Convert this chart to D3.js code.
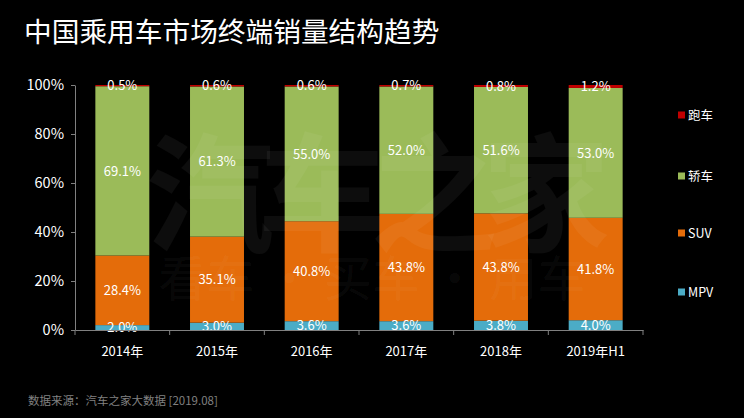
<!DOCTYPE html>
<html><head><meta charset="utf-8">
<script src="https://cdn.jsdelivr.net/npm/d3@7"></script>
<style>
html,body{margin:0;padding:0;background:#000;}
svg{display:block;}
text{font-family:"Noto Sans CJK SC","Noto Sans",sans-serif;}
</style></head>
<body>
<svg id="chart" width="744" height="418"></svg>
<script>
const categories = ["2014年","2015年","2016年","2017年","2018年","2019年H1"];
const seriesNames = ["MPV","SUV","轿车","跑车"];
const mpv    = [2.0, 3.0, 3.6, 3.6, 3.8, 4.0];
const suv    = [28.4, 35.1, 40.8, 43.8, 43.8, 41.8];
const sedan  = [69.1, 61.3, 55.0, 52.0, 51.6, 53.0];
const sports = [0.5, 0.6, 0.6, 0.7, 0.8, 1.2];
const yTicks = [0, 20, 40, 60, 80, 100];
const colors = ["#4BACC6", "#E46C0A", "#9BBB59", "#C00000"];

const seriesVals = [mpv, suv, sedan, sports];
const rows = categories.map((c, i) => {
  const r = {cat: c};
  seriesNames.forEach((s, k) => r[s] = seriesVals[k][i]);
  return r;
});

const svg = d3.select("#chart");
svg.append("rect").attr("width",744).attr("height",418).attr("fill","#000");

const x = d3.scaleBand().domain(categories).range([75, 643]).paddingInner(0.43).paddingOuter(0.215);
const y = d3.scaleLinear().domain([0, 100]).range([330, 85]);

const stack = d3.stack().keys(seriesNames)(rows);

const g = svg.append("g");
stack.forEach((layer, k) => {
  g.selectAll(null).data(layer).enter().append("rect")
    .attr("x", d => x(d.data.cat))
    .attr("width", x.bandwidth())
    .attr("y", d => y(Math.min(d[1], 100)))
    .attr("height", d => y(d[0]) - y(Math.min(d[1], 100)))
    .attr("fill", colors[k]);
});

// watermark
const wm = svg.append("g").attr("fill","#fff").attr("fill-opacity",0.05).attr("font-weight","bold").attr("text-anchor","middle");
wm.append("text").attr("x",370).attr("y",242).attr("font-size",128).attr("letter-spacing",-16).text("汽车之家");
wm.append("text").attr("x",372).attr("y",296).attr("font-size",48).attr("font-weight","normal").text("看车 · 买车 · 用车");

// labels
stack.forEach((layer, k) => {
  g.selectAll(null).data(layer).enter().append("text")
    .attr("x", d => x(d.data.cat) + x.bandwidth()/2)
    .attr("y", d => y((d[0] + Math.min(d[1],100))/2))
    .attr("dy","0.36em")
    .attr("text-anchor","middle")
    .attr("fill","#fff")
    .attr("font-size",13)
    .text(d => (d[1]-d[0]).toFixed(1) + "%");
});

// axes
const xAxis = svg.append("g").attr("transform","translate(0,330)")
  .call(d3.axisBottom(x).tickSize(0).tickSizeOuter(0));
xAxis.select(".domain").attr("stroke","#808080");
xAxis.selectAll(".tick text").attr("fill","#fff").attr("font-size",13).attr("dy","1.75em").attr("font-family",'"Noto Sans CJK SC",sans-serif');
// category boundary ticks
const bounds = d3.range(categories.length + 1).map(i => 75 + i * x.step());
svg.append("g").selectAll("line").data(bounds).enter().append("line")
  .attr("x1", d => d).attr("x2", d => d).attr("y1", 330).attr("y2", 335)
  .attr("stroke","#808080");

const yAxis = svg.append("g").attr("transform","translate(75,0)")
  .call(d3.axisLeft(y).tickValues(yTicks).tickFormat(d => d + "%").tickSize(4).tickSizeOuter(0).tickPadding(7));
yAxis.select(".domain").attr("stroke","#808080");
yAxis.selectAll(".tick line").attr("stroke","#808080");
yAxis.selectAll(".tick text").attr("fill","#fff").attr("font-size",14.5).attr("font-family",'"Noto Sans",sans-serif');

// legend
const legendY = [292, 233, 176, 115];
const lg = svg.append("g");
seriesNames.forEach((s, k) => {
  lg.append("rect").attr("x",678).attr("y",legendY[k]-3.5).attr("width",7).attr("height",7).attr("fill",colors[k]);
  lg.append("text").attr("x",688).attr("y",legendY[k]).attr("dy","0.36em").attr("fill","#fff").attr("font-size",12.5).text(s);
});

// title
svg.append("text").attr("x",24).attr("y",42).attr("fill","#fff").attr("font-size",27.7).text("中国乘用车市场终端销量结构趋势");
// source
svg.append("text").attr("x",28).attr("y",405).attr("fill","#808080").attr("font-size",11.5).text("数据来源：汽车之家大数据 [2019.08]");
</script>
</body></html>
